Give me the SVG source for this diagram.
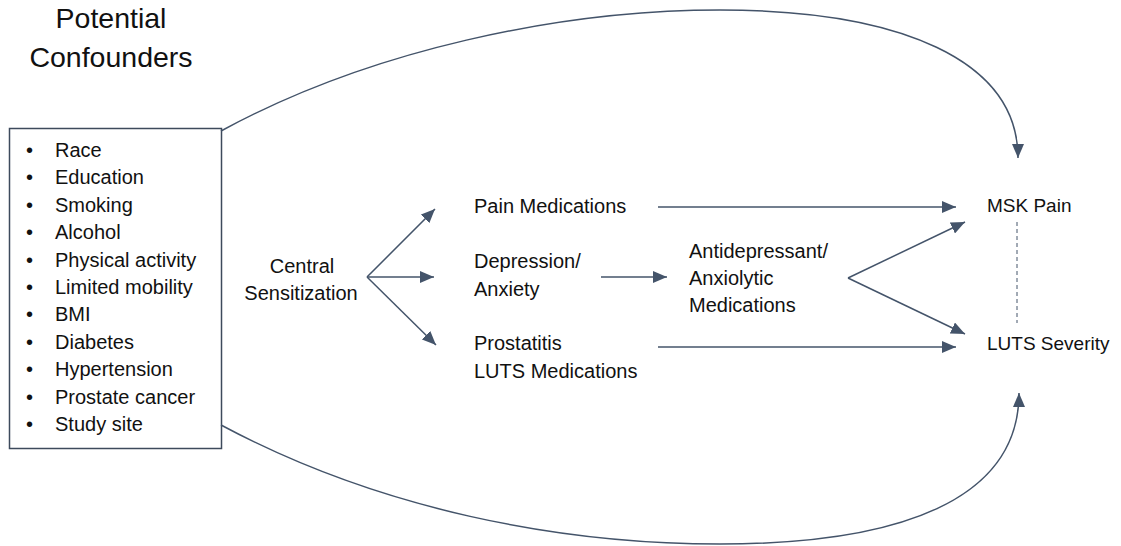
<svg xmlns="http://www.w3.org/2000/svg" width="1121" height="546" viewBox="0 0 1121 546">
<style>
text{font-family:"Liberation Sans",Arial,sans-serif;fill:#111;font-size:20px}
.title{font-size:28.5px}
.out{font-size:19px}
.edge{fill:none;stroke:#44546A;stroke-width:1.5}
.dash{fill:none;stroke:#44546A;stroke-width:1;stroke-dasharray:4 3}
</style>
<defs>
<marker id="ah" viewBox="0 0 14 12" refX="14" refY="6" markerWidth="14" markerHeight="12" markerUnits="userSpaceOnUse" orient="auto">
<path d="M0,0 L14,6 L0,12 z" fill="#44546A"/>
</marker>
</defs>
<rect width="1121" height="546" fill="#fff"/>
<g id="title">
<text class="title" x="111" y="28" text-anchor="middle">Potential</text>
<text class="title" x="111" y="67" text-anchor="middle">Confounders</text>
</g>
<g id="confounders">
<rect x="9.5" y="128.5" width="212" height="320" fill="#fff" stroke="#3d4a5c" stroke-width="1.5"/>
<g>
<text x="26" y="157">•</text><text x="55" y="157">Race</text>
<text x="26" y="184.4">•</text><text x="55" y="184.4">Education</text>
<text x="26" y="211.8">•</text><text x="55" y="211.8">Smoking</text>
<text x="26" y="239.2">•</text><text x="55" y="239.2">Alcohol</text>
<text x="26" y="266.6">•</text><text x="55" y="266.6">Physical activity</text>
<text x="26" y="294">•</text><text x="55" y="294">Limited mobility</text>
<text x="26" y="321.4">•</text><text x="55" y="321.4">BMI</text>
<text x="26" y="348.8">•</text><text x="55" y="348.8">Diabetes</text>
<text x="26" y="376.2">•</text><text x="55" y="376.2">Hypertension</text>
<text x="26" y="403.6">•</text><text x="55" y="403.6">Prostate cancer</text>
<text x="26" y="431">•</text><text x="55" y="431">Study site</text>
</g>
</g>
<g id="central">
<text x="302" y="273" text-anchor="middle">Central</text>
<text x="301" y="300" text-anchor="middle">Sensitization</text>
</g>
<g id="painmeds">
<text x="474" y="213">Pain Medications</text>
</g>
<g id="depression">
<text x="474" y="268">Depression/</text>
<text x="474" y="296">Anxiety</text>
</g>
<g id="prostatitis">
<text x="474" y="350">Prostatitis</text>
<text x="474" y="378">LUTS Medications</text>
</g>
<g id="antidep">
<text x="689" y="258">Antidepressant/</text>
<text x="689" y="285">Anxiolytic</text>
<text x="689" y="312">Medications</text>
</g>
<g id="msk">
<text class="out" x="987" y="212">MSK Pain</text>
</g>
<g id="luts">
<text class="out" x="987" y="350">LUTS Severity</text>
</g>
<g id="connectors">
<line class="edge" x1="367" y1="277" x2="435" y2="209" marker-end="url(#ah)"/>
<line class="edge" x1="367" y1="277" x2="434" y2="277" marker-end="url(#ah)"/>
<line class="edge" x1="367" y1="277" x2="436" y2="345" marker-end="url(#ah)"/>
<line class="edge" x1="601" y1="277" x2="667" y2="277" marker-end="url(#ah)"/>
<line class="edge" x1="658" y1="207" x2="956" y2="207" marker-end="url(#ah)"/>
<line class="edge" x1="658" y1="347" x2="956" y2="347" marker-end="url(#ah)"/>
<line class="edge" x1="848" y1="278" x2="965" y2="222" marker-end="url(#ah)"/>
<line class="edge" x1="848" y1="278" x2="965" y2="334" marker-end="url(#ah)"/>
<line class="dash" x1="1017" y1="222" x2="1017" y2="323"/>
<path class="edge" d="M221,131 C370,50 560,10 720,10 C900,10 1018,60 1018,158" marker-end="url(#ah)"/>
<path class="edge" d="M221,425 C380,510 560,544 720,544 C900,544 1019,500 1019,393" marker-end="url(#ah)"/>
</g>
</svg>
